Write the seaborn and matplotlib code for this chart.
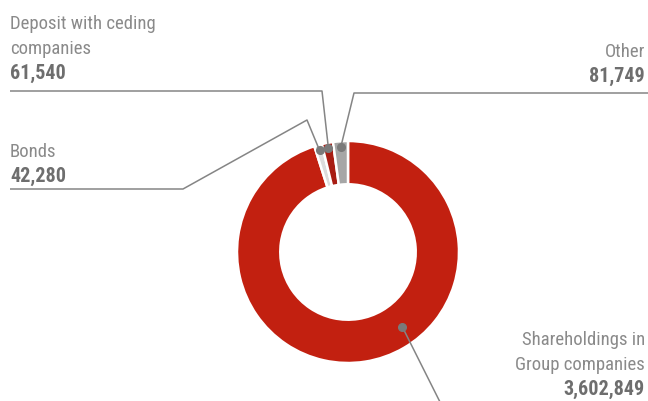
import matplotlib
matplotlib.use('Agg')
import matplotlib.pyplot as plt
import seaborn as sns
import numpy as np

# dados
categorias = ['Shareholdings in\nGroup companies', 'Bonds', 'Deposit with ceding\ncompanies', 'Other']
valores = [3602849, 42280, 61540, 81749]
rotulos_valor = ['3,602,849', '42,280', '61,540', '81,749']
cores = ['#c22010', '#dcdcdc', '#a81d13', '#a6a6a6']

sns.set_style('white')
plt.rcParams['font.family'] = ['Roboto Condensed', 'DejaVu Sans Condensed', 'Liberation Sans Narrow', 'DejaVu Sans']
plt.rcParams['font.stretch'] = 'condensed'

W, H = 648, 401
fig = plt.figure(figsize=(W / 100, H / 100), dpi=100)

# eixo da rosca
cx, cy, r = 348, 252, 111
ax = fig.add_axes([(cx - r) / W, (H - cy - r) / H, 2 * r / W, 2 * r / H])
wedges, _ = ax.pie(valores, colors=cores, startangle=90, counterclock=False,
                   radius=1, wedgeprops={'width': 0.39, 'edgecolor': 'white', 'linewidth': 1.8})
ax.set_xlim(-1, 1)
ax.set_ylim(-1, 1)
ax.set_aspect('equal')
ax.axis('off')

# eixo de sobreposicao em pixels
ov = fig.add_axes([0, 0, 1, 1], zorder=5)
ov.set_xlim(0, W)
ov.set_ylim(H, 0)
ov.axis('off')
fig.canvas.draw()


def ponto(ang, raio):
    p = ax.transData.transform((raio * np.cos(np.radians(ang)), raio * np.sin(np.radians(ang))))
    return ov.transData.inverted().transform(p)


ang_meio = [(w.theta1 + w.theta2) / 2 for w in wedges]
ang_meio[0] = -54  # ponto da fatia grande
raios = [0.83, 0.95, 0.95, 0.95]

# caminhos das linhas (a partir do ponto)
caminhos = [
    [(443, 408)],
    [(307, 120), (183, 189), (10, 189)],
    [(322, 91), (10, 91)],
    [(354, 93), (648, 93)],
]

cor_linha = '#858585'
for a, rr, cam in zip(ang_meio, raios, caminhos):
    x0, y0 = ponto(a, rr)
    xs = [x0] + [c[0] for c in cam]
    ys = [y0] + [c[1] for c in cam]
    ov.plot(xs, ys, color=cor_linha, lw=1.1, solid_capstyle='butt', clip_on=False)
    ov.plot([x0], [y0], 'o', color='#7a7a7a', ms=5.5)

# textos
cor_txt = '#8a8a8a'
cor_num = '#6e6e6e'
# (x, y base da ultima linha do nome, alinhamento)
pos_txt = [(645, 370, 'right'), (10, 157, 'left'), (10, 54, 'left'), (645, 57, 'right')]
for nome, num, (x, y, ha) in zip(categorias, rotulos_valor, pos_txt):
    ov.text(x, y, nome, ha=ha, va='baseline', fontsize=13.5, color=cor_txt, linespacing=1.53)
    ov.text(x, y + 24.5, num, ha=ha, va='baseline', fontsize=14.5, color=cor_num, fontweight='bold')

fig.savefig('out.png', dpi=100)
